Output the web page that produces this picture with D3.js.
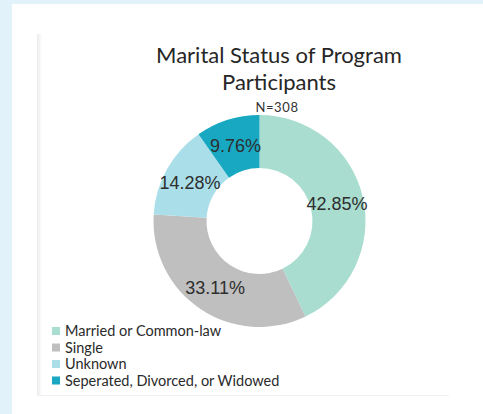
<!DOCTYPE html>
<html>
<head>
<meta charset="utf-8">
<script src="https://cdn.jsdelivr.net/npm/d3@7"></script>
<style>
  body { margin: 0; background: #e2f2fb; }
  svg { display: block; }
</style>
</head>
<body>
<div id="chart"></div>
<script>
let categories = ['Married or Common-law', 'Single', 'Unknown', 'Seperated, Divorced, or Widowed']
let percents = [42.85, 33.11, 14.28, 9.76]
let colors = ['#a8ddcf', '#bfbfbf', '#aadfea', '#18a8c2']

let titleLines = ['Marital Status of Program', 'Participants']
let subtitle = 'N=308'

let width = 483
let height = 414

let svg = d3
  .select('#chart')
  .append('svg')
  .attr('width', width)
  .attr('height', height)

// white page + card edge
svg.append('rect')
  .attr('x', 12).attr('y', 4)
  .attr('width', width - 12).attr('height', height - 4)
  .attr('fill', '#ffffff')

let defs = svg.append('defs')
let grad = defs.append('linearGradient').attr('id', 'edge')
grad.append('stop').attr('offset', '0%').attr('stop-color', '#ebebeb')
grad.append('stop').attr('offset', '100%').attr('stop-color', '#ffffff')

svg.append('rect')
  .attr('x', 37).attr('y', 34)
  .attr('width', 5).attr('height', 362)
  .attr('fill', 'url(#edge)')

svg.append('line')
  .attr('x1', 37).attr('x2', 449)
  .attr('y1', 395.5).attr('y2', 395.5)
  .attr('stroke', '#f0f0f0')

// title
svg.append('g')
  .selectAll('text')
  .data(titleLines)
  .enter()
  .append('text')
  .attr('x', 279)
  .attr('y', (d, i) => 63 + i * 27)
  .attr('text-anchor', 'middle')
  .attr('font-family', 'Lato, sans-serif')
  .attr('font-size', 22)
  .attr('fill', '#262626')
  .text(d => d)

svg.append('text')
  .attr('x', 277)
  .attr('y', 112)
  .attr('text-anchor', 'middle')
  .attr('font-family', 'Lato, sans-serif')
  .attr('font-size', 13)
  .attr('letter-spacing', 0.6)
  .attr('fill', '#333')
  .text(subtitle)

// donut
let data = categories.map((c, i) => ({ key: c, value: percents[i] }))

let colorScale = d3.scaleOrdinal().domain(categories).range(colors)

let pie = d3.pie().sort(null).value(d => d.value)
let arc = d3.arc().innerRadius(53).outerRadius(106)

let donut = svg.append('g')
  .attr('transform', 'translate(259.5,221)')

donut.selectAll('path')
  .data(pie(data))
  .enter()
  .append('path')
  .attr('d', arc)
  .attr('fill', d => colorScale(d.data.key))

donut.selectAll('.label')
  .data(pie(data))
  .enter()
  .append('text')
  .attr('class', 'label')
  .attr('transform', d => 'translate(' + arc.centroid(d) + ')')
  .attr('text-anchor', 'middle')
  .attr('dy', '0.36em')
  .attr('font-family', 'Liberation Sans, Arial, sans-serif')
  .attr('font-size', 18)
  .attr('fill', '#2e2e2e')
  .text(d => d.data.value.toFixed(2) + '%')

// legend
let legend = svg.append('g')
  .attr('transform', 'translate(52,331)')

let rows = legend.selectAll('g')
  .data(categories)
  .enter()
  .append('g')
  .attr('transform', (d, i) => 'translate(0,' + i * 16.5 + ')')

rows.append('rect')
  .attr('x', 0).attr('y', -4)
  .attr('width', 8).attr('height', 8)
  .attr('fill', d => colorScale(d))

rows.append('text')
  .attr('x', 13)
  .attr('dy', '0.35em')
  .attr('font-family', 'Lato, sans-serif')
  .attr('font-size', 14.5)
  .attr('fill', '#2a2a2a')
  .text(d => d)
</script>
</body>
</html>
